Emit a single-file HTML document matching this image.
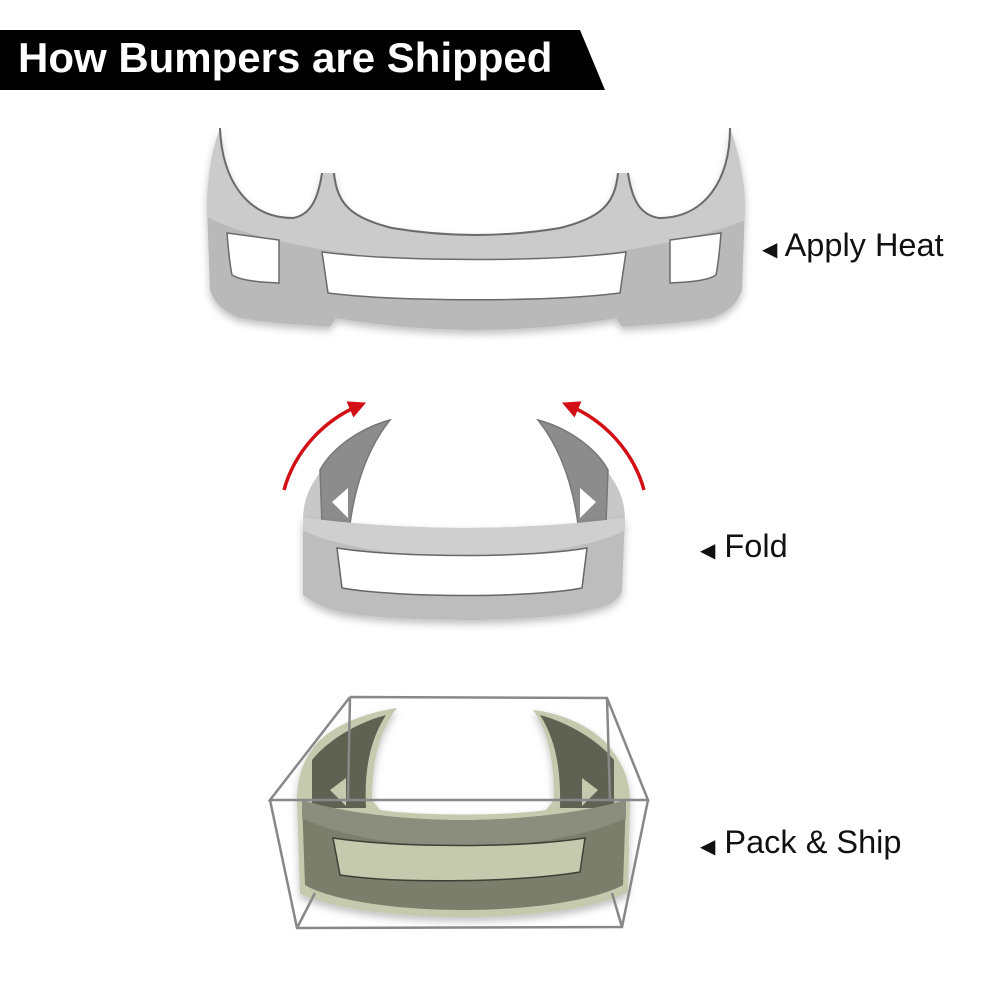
<!DOCTYPE html>
<html><head><meta charset="utf-8"><style>
body{margin:0;background:#fff;width:1000px;height:1000px;overflow:hidden;font-family:"Liberation Sans",sans-serif}
</style></head><body>
<svg width="1000" height="1000" viewBox="0 0 1000 1000" xmlns="http://www.w3.org/2000/svg">
<defs>
<filter id="sh" x="-10%" y="-10%" width="120%" height="130%"><feDropShadow dx="0" dy="4" stdDeviation="4" flood-color="#000" flood-opacity="0.25"/></filter>
<clipPath id="topclip"><path d="M220,128 C212,150 207,180 207,207 L210,290 C215,305 225,312 240,318 C280,325 315,325 330,327 L336,318 C380,326 430,330 476,330 C522,330 572,326 616,318 L622,327 C637,325 672,325 712,318 C727,312 737,305 742,290 L745,207 C745,180 738,150 730,128 C730,180 705,218 659,218 C640,215 632,200 628,173 L618,173 C615,205 600,218 560,228 C530,233 500,235 476,235 C452,235 422,233 392,228 C352,218 337,205 334,173 L322,173 C318,200 310,215 293,218 C247,218 222,180 220,128 Z"/></clipPath>
<marker id="ah" viewBox="0 0 10 10" refX="5" refY="5" markerWidth="5" markerHeight="5" orient="auto"><path d="M0,0 L10,5 L0,10 Z" fill="#d10f14"/></marker>
</defs>

<!-- header -->
<polygon points="0,30 580,30 605,90 0,90" fill="#000"/>
<text x="18" y="72" font-size="42" font-weight="bold" fill="#fff">How Bumpers are Shipped</text>

<!-- top bumper -->
<g filter="url(#sh)">
<g clip-path="url(#topclip)">
<rect x="200" y="100" width="560" height="240" fill="#b9b9b9"/>
<path d="M200,100 L760,100 L760,213 C700,245 560,263 476,263 C392,263 252,245 200,213 Z" fill="#cbcbcb"/>
</g>
</g>
<path d="M220,128 C222,180 247,218 293,218 C310,215 318,200 322,173 M334,173 C337,205 352,218 392,228 C422,233 452,235 476,235 C500,235 530,233 560,228 C600,218 615,205 618,173 M628,173 C632,200 640,215 659,218 C705,218 730,180 730,128" fill="none" stroke="#6a6a6a" stroke-width="2"/>
<path d="M227,233 L279,240 L279,283 C255,282 240,280 232,275 C229,260 228,245 227,233 Z" fill="#fff" stroke="#6a6a6a" stroke-width="1.5"/>
<path d="M322,252 C400,262 550,262 626,252 L620,293 C550,302 400,302 328,293 Z" fill="#fff" stroke="#6a6a6a" stroke-width="1.5"/>
<path d="M721,233 L670,240 L670,283 C694,282 709,280 716,275 C719,260 720,245 721,233 Z" fill="#fff" stroke="#6a6a6a" stroke-width="1.5"/>

<!-- folded bumper -->
<path d="M303,520 C303,500 310,485 322,470 L326,522 Z" fill="#c8c8c8"/>
<path d="M625,520 C625,500 618,485 606,470 L602,522 Z" fill="#c8c8c8"/>
<path d="M320,470 C332,448 360,428 390,420 C370,445 356,480 350,524 L322,524 Z" fill="#8c8c8c" stroke="#777" stroke-width="1.5"/>
<path d="M608,470 C596,448 568,428 538,420 C558,445 572,480 578,524 L606,524 Z" fill="#8c8c8c" stroke="#777" stroke-width="1.5"/>
<path d="M332,502 L348,488 L348,518 Z" fill="#fff"/>
<path d="M596,502 L580,488 L580,518 Z" fill="#fff"/>
<g filter="url(#sh)">
<path d="M303,517 C330,522 400,528 464,528 C530,528 600,522 625,517 L622,592 C615,605 600,608 590,610 C560,618 500,620 464,620 C420,620 370,618 340,612 C325,608 318,605 303,595 Z" fill="#bdbdbd"/>
</g>
<path d="M303,517 C330,522 400,528 464,528 C530,528 600,522 625,517 L625,530 C600,545 530,557 464,557 C400,557 330,545 303,530 Z" fill="#cfcfcf"/>
<path d="M337,548 C400,558 530,558 587,548 L582,588 C530,598 400,598 342,588 Z" fill="#fff" stroke="#666" stroke-width="1.5"/>
<path d="M284,490 C295,450 325,420 358,406" fill="none" stroke="#d10f14" stroke-width="3.5" marker-end="url(#ah)"/>
<path d="M644,490 C633,450 603,420 570,406" fill="none" stroke="#d10f14" stroke-width="3.5" marker-end="url(#ah)"/>

<!-- packed bumper -->
<path d="M297,800 C297,775 305,755 320,740 C340,722 370,712 397,708 C380,730 372,760 372,800 L380,810 C420,816 506,816 546,810 L554,800 C554,760 548,730 533,710 C560,713 590,725 608,745 C622,762 630,780 630,800 L628,892 C600,907 540,917 463,917 C386,917 330,907 300,894 Z" fill="#c5c9ad" filter="url(#sh)"/>
<path d="M312,760 C330,738 360,722 386,715 C370,740 364,770 366,808 L312,808 Z" fill="#5f6153"/>
<path d="M614,760 C596,738 566,722 540,715 C556,740 561,770 560,808 L614,808 Z" fill="#5f6153"/>
<path d="M330,790 L346,778 L346,806 Z" fill="#c5c9ad"/>
<path d="M598,790 L582,778 L582,806 Z" fill="#c5c9ad"/>
<path d="M302,800 C340,812 400,820 463,820 C526,820 586,812 626,800 L623,885 C600,898 540,910 463,910 C386,910 326,898 305,885 Z" fill="#7b7e6b"/>
<path d="M302,800 C340,812 400,820 463,820 C526,820 586,812 626,800 L626,818 C590,835 526,847 463,847 C400,847 336,835 302,818 Z" fill="#8b8e7c"/>
<path d="M333,838 C400,848 520,848 585,838 L580,872 C520,882 400,884 340,875 Z" fill="#c5c9ad" stroke="#3e4036" stroke-width="1.5"/>
<!-- box -->
<g fill="none" stroke="#888" stroke-width="2.5">
<polyline points="350,697 607,698 648,800 270,800 350,697"/>
<line x1="350" y1="697" x2="348" y2="800"/>
<line x1="607" y1="698" x2="610" y2="800"/>
<polyline points="270,800 297,928 622,927 648,800"/>
<line x1="297" y1="928" x2="315" y2="893"/>
<line x1="622" y1="927" x2="612" y2="893"/>
</g>

<!-- labels -->
<g font-size="32.5" fill="#111">
<text x="762" y="256"><tspan font-size="20">◀</tspan> Apply Heat</text>
<text x="700" y="557"><tspan font-size="20">◀</tspan> Fold</text>
<text x="700" y="853"><tspan font-size="20">◀</tspan> Pack &amp; Ship</text>
</g>
</svg>
</body></html>
